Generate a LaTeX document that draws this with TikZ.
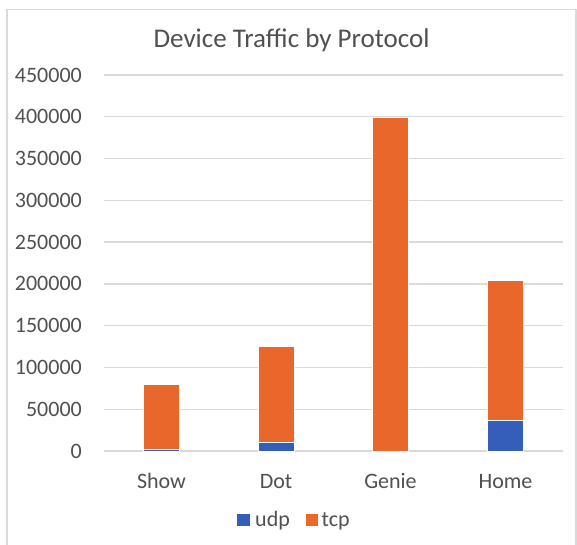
\documentclass[tikz,border=0pt]{standalone}
\usepackage{fontspec}
\setmainfont{Carlito}
\definecolor{udpblue}{RGB}{53,94,186}
\definecolor{tcporange}{RGB}{233,103,42}
\definecolor{gridgray}{RGB}{217,217,217}
\definecolor{textgray}{RGB}{80,80,80}
\tikzset{
    every node/.style={inner sep=0pt, text=textgray,
    	font=\fontsize{22}{26}\selectfont}
}
\tikzset{
    grid line/.style={draw=gridgray, line width=1.3pt},
    frame line/.style={draw=gridgray, line width=1.2pt},
    bar/.style={draw=white, line width=0.3pt}
}
% value in thousands -> vertical position
\newcommand{\yv}[1]{451-#1*0.8356}

\begin{document}
\begin{tikzpicture}[x=1pt, y=-1pt]
  \useasboundingbox (0,0) rectangle (577,544);
  \draw[frame line] (7,560) -- (7,9.5) -- (576,9.5) -- (576,560);

  \node (title) [font=\fontsize{27}{32}\selectfont] at (291.5,40.5)
    {Device Traffic by Protocol};

  % grid and value axis
  \foreach \k/\lab in {0/0, 1/50000, 2/100000, 3/150000, 4/200000,
      5/250000, 6/300000, 7/350000, 8/400000, 9/450000} {
    \draw[grid line] (104,{\yv{50*\k}}) -- (563,{\yv{50*\k}});
    \node (tick\k) [anchor=east] at (82,{\yv{50*\k}}) {\lab};
  }

  % stacked bars: centre / udp / total
  \foreach \c/\u/\t in {161.5/2.6/80, 276/11/125, 390.5/0.3/400, 505.5/37/205} {
    \filldraw[bar, fill=tcporange] (\c-18,{\yv{0}}) rectangle (\c+18,{\yv{\t}});
    \filldraw[bar, fill=udpblue] (\c-18,{\yv{0}}) rectangle (\c+18,{\yv{\u}});
  }

  \node (show) [anchor=base] at (161.5,488) {Show};
  \node (dot) [anchor=base] at (276,488) {Dot};
  \node (genie) [anchor=base] at (390.5,488) {Genie};
  \node (home) [anchor=base] at (505.5,488) {Home};

  % legend
  \node (udpkey) [fill=udpblue, minimum size=12.5pt] at (243.6,520) {};
  \node (udp) [anchor=base west] at (255,526) {udp};
  \node (tcpkey) [fill=tcporange, minimum size=12.5pt] at (312.2,520) {};
  \node (tcp) [anchor=base west] at (321.5,526) {tcp};
\end{tikzpicture}
\end{document}
